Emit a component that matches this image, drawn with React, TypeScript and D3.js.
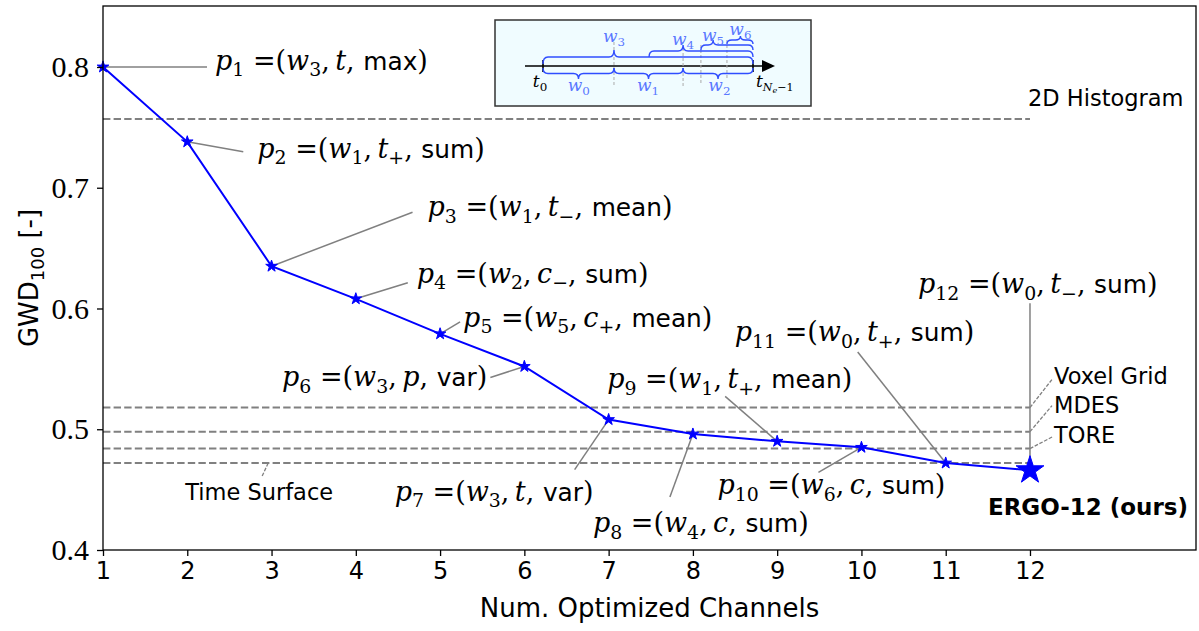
import { useEffect, useRef } from 'react'
import * as d3 from 'd3'

// GWD_100 after each greedily added channel
const channels = [1, 2, 3, 4, 5, 6, 7, 8, 9, 10, 11, 12]
const gwd = [0.8, 0.738, 0.635, 0.608, 0.579, 0.552, 0.508, 0.496, 0.49, 0.485, 0.472, 0.466]
const windows = ['3', '1', '1', '2', '5', '3', '3', '4', '1', '6', '0', '0']
const features = ['t', 't+', 't-', 'c-', 'c+', 'p', 't', 'c', 't+', 'c', 't+', 't-']
const aggs = ['max', 'sum', 'mean', 'sum', 'mean', 'var', 'var', 'sum', 'mean', 'sum', 'sum', 'sum']

const baselineNames = ['2D Histogram', 'Voxel Grid', 'MDES', 'TORE', 'Time Surface']
const baselineValues = [0.757, 0.518, 0.498, 0.484, 0.472]

const yTicks = [0.4, 0.5, 0.6, 0.7, 0.8]

// inset: window boundaries as fractions of [t0, t_{Ne-1}]
const insetCuts = [0.338, 0.667, 0.752, 0.876]

const W = 1199
const H = 631
const SERIF = '"DejaVu Serif", "Liberation Serif", serif'
const TICKSERIF = '"Liberation Serif", "DejaVu Serif", serif'
const SANS = '"DejaVu Sans", "Liberation Sans", sans-serif'

// label placement, offsets (px) from the point
const annoLayout = [
  { cx: 104, cy: 0, tx: 112, ty: -5, end: false },
  { cx: 56, cy: 10, tx: 70, ty: 8, end: false },
  { cx: 141, cy: -54, tx: 156, ty: -58, end: false },
  { cx: 52, cy: -16, tx: 61, ty: -24, end: false },
  { cx: 20, cy: -12, tx: 23, ty: -15, end: false },
  { cx: -34, cy: 11, tx: -37, ty: 12, end: true },
  { cx: -34, cy: 50, tx: -214, ty: 73, end: false },
  { cx: -23, cy: 63, tx: -100, ty: 90, end: false },
  { cx: -52, cy: -45, tx: -170, ty: -61, end: false },
  { cx: -43, cy: 25, tx: -144, ty: 39, end: false },
  { cx: -88, cy: -111, tx: -211, ty: -130, end: false },
  { cx: 0, cy: -167, tx: -112, ty: -185, end: false }
]

const baseLayout = [
  { ax: 12, cx: 0, cy: 0, tx: -2, ty: -21 },
  { ax: 12, cx: 22, cy: -28, tx: 24, ty: -32 },
  { ax: 12, cx: 22, cy: -26, tx: 24, ty: -27 },
  { ax: 12, cx: 23, cy: -12, tx: 24, ty: -14 },
  { ax: 2.96, cx: -6, cy: 13, tx: -83, ty: 29 }
]

type Seg = { s: string; k: 'i' | 'r' | 'sub' | 'sf' }

function labelSegs(i: number): Seg[] {
  const f = features[i]
  const segs: Seg[] = [
    { s: 'p', k: 'i' },
    { s: String(channels[i]), k: 'sub' },
    { s: ' =(', k: 'r' },
    { s: 'w', k: 'i' },
    { s: windows[i], k: 'sub' },
    { s: ',\u2009', k: 'r' },
    { s: f[0], k: 'i' }
  ]
  if (f.length > 1) segs.push({ s: f[1] === '+' ? '+' : '\u2212', k: 'sub' })
  segs.push({ s: ', ', k: 'r' }, { s: aggs[i], k: 'sf' }, { s: ')', k: 'r' })
  return segs
}

function drawMath(text: any, segs: Seg[], fs: number) {
  let shift = 0
  segs.forEach(sg => {
    const target = sg.k === 'sub' ? fs * 0.24 : 0
    const ts = text.append('tspan').attr('dy', target - shift).text(sg.s)
    shift = target
    if (sg.k === 'i') ts.attr('font-style', 'italic').attr('font-family', SERIF)
    if (sg.k === 'r') ts.attr('font-family', SERIF)
    if (sg.k === 'sub') ts.attr('font-family', SERIF).attr('font-size', fs * 0.7)
    if (sg.k === 'sf') ts.attr('font-family', SANS).attr('font-size', fs * 0.92)
  })
}

function brace(x0: number, x1: number, tip: number, y: number, dir: number, h: number) {
  const r = 5
  const mid = y + (dir * h) / 2
  const ty = y + dir * h
  const p = d3.path()
  p.moveTo(x0, y)
  p.quadraticCurveTo(x0, mid, x0 + r, mid)
  p.lineTo(tip - r, mid)
  p.quadraticCurveTo(tip, mid, tip, ty)
  p.quadraticCurveTo(tip, mid, tip + r, mid)
  p.lineTo(x1 - r, mid)
  p.quadraticCurveTo(x1, mid, x1, y)
  return p.toString()
}

export default function App() {
  const ref = useRef<SVGSVGElement>(null)

  useEffect(() => {
    if (!ref.current) return
    const svg = d3.select(ref.current)
    svg.selectAll('*').remove()

    const x = d3.scaleLinear().domain([1, 13.97]).range([103, 1196])
    const y = d3.scaleLinear().domain([0.4, 0.8505]).range([550, 6])

    // baselines
    baselineValues.forEach((v, i) => {
      svg.append('line')
        .attr('x1', x(1)).attr('x2', x(12))
        .attr('y1', y(v)).attr('y2', y(v))
        .attr('stroke', '#808080').attr('stroke-width', 2)
        .attr('stroke-dasharray', '7.4,3.2')
      const L = baseLayout[i]
      const ax = x(L.ax)
      const ay = y(v)
      if (L.cx !== 0 || L.cy !== 0) {
        svg.append('line')
          .attr('x1', ax).attr('y1', ay)
          .attr('x2', ax + L.cx).attr('y2', ay + L.cy)
          .attr('stroke', '#808080').attr('stroke-width', 1.3)
          .attr('stroke-dasharray', '3.7,1.6')
      }
      svg.append('text')
        .attr('x', ax + L.tx).attr('y', ay + L.ty)
        .attr('dy', '0.36em')
        .attr('font-family', SANS).attr('font-size', 22.5)
        .attr('fill', '#000')
        .text(baselineNames[i])
    })

    // annotation connectors
    channels.forEach((c, i) => {
      const px = x(c)
      const py = y(gwd[i])
      const L = annoLayout[i]
      svg.append('line')
        .attr('x1', px).attr('y1', py)
        .attr('x2', px + L.cx).attr('y2', py + L.cy)
        .attr('stroke', '#808080').attr('stroke-width', 1.5)
    })

    // main curve
    const line = d3.line<number>()
      .x((_, i) => x(channels[i]))
      .y(d => y(d))
    svg.append('path')
      .datum(gwd)
      .attr('d', line)
      .attr('fill', 'none')
      .attr('stroke', '#0000ff')
      .attr('stroke-width', 2)

    const small = d3.symbol(d3.symbolStar, 42)
    const big = d3.symbol(d3.symbolStar, 240)
    channels.forEach((c, i) => {
      svg.append('path')
        .attr('d', i === channels.length - 1 ? big() : small())
        .attr('transform', `translate(${x(c)},${y(gwd[i])})`)
        .attr('fill', '#0000ff')
        .attr('stroke', '#0000ff')
        .attr('stroke-width', 1)
    })

    // annotation labels
    const FS = 27
    channels.forEach((c, i) => {
      const L = annoLayout[i]
      const t = svg.append('text')
        .attr('x', x(c) + L.tx)
        .attr('y', y(gwd[i]) + L.ty + 8)
        .attr('font-size', FS)
        .attr('fill', '#000')
        .attr('text-anchor', L.end ? 'end' : 'start')
      drawMath(t, labelSegs(i), FS)
    })

    svg.append('text')
      .attr('x', x(12) + 58).attr('y', y(gwd[11]) + 45)
      .attr('text-anchor', 'middle')
      .attr('font-family', SANS).attr('font-size', 23)
      .attr('font-weight', 'bold')
      .text('ERGO-12 (ours)')

    // frame
    svg.append('rect')
      .attr('x', x(1)).attr('y', y(0.8505))
      .attr('width', x(13.97) - x(1)).attr('height', y(0.4) - y(0.8505))
      .attr('fill', 'none').attr('stroke', '#000').attr('stroke-width', 1.3)

    // y axis
    const ya = svg.append('g').attr('transform', `translate(${x(1)},0)`)
      .call(d3.axisLeft(y).tickValues(yTicks).tickSize(6).tickPadding(8).tickFormat(d3.format('.1f')))
    ya.select('.domain').remove()
    ya.selectAll('line').attr('stroke', '#000').attr('stroke-width', 1.3)
    ya.selectAll('text').attr('font-family', TICKSERIF).attr('font-size', 30).attr('fill', '#000')

    // x axis
    const xa = svg.append('g').attr('transform', `translate(0,${y(0.4)})`)
      .call(d3.axisBottom(x).tickValues(channels).tickSize(6).tickPadding(6).tickFormat(d3.format('d')))
    xa.select('.domain').remove()
    xa.selectAll('line').attr('stroke', '#000').attr('stroke-width', 1.3)
    xa.selectAll('text').attr('font-family', SANS).attr('font-size', 24).attr('fill', '#000')

    svg.append('text')
      .attr('x', (x(1) + x(13.97)) / 2).attr('y', 617)
      .attr('text-anchor', 'middle')
      .attr('font-family', SANS).attr('font-size', 26)
      .text('Num. Optimized Channels')

    const yl = svg.append('text')
      .attr('transform', `translate(38,${(y(0.4) + y(0.8505)) / 2}) rotate(-90)`)
      .attr('text-anchor', 'middle')
      .attr('font-family', SANS).attr('font-size', 26)
    yl.append('tspan').text('GWD')
    yl.append('tspan').attr('font-size', 18).attr('dy', 6).text('100')
    yl.append('tspan').attr('dy', -6).text(' [-]')

    // inset diagram
    const g = svg.append('g')
    g.append('rect')
      .attr('x', 495).attr('y', 20).attr('width', 316).attr('height', 86)
      .attr('fill', '#f0fcff').attr('stroke', '#333').attr('stroke-width', 1.5)
    const tx = d3.scaleLinear().domain([0, 1]).range([543, 753])
    const ay = 66
    g.append('line').attr('x1', 525).attr('x2', 763).attr('y1', ay).attr('y2', ay)
      .attr('stroke', '#000').attr('stroke-width', 1.6)
    g.append('path').attr('d', `M762,${ay - 6}L775,${ay}L762,${ay + 6}Z`).attr('fill', '#000')
    ;[0, 1].forEach(v => {
      g.append('line').attr('x1', tx(v)).attr('x2', tx(v)).attr('y1', ay - 6).attr('y2', ay + 6)
        .attr('stroke', '#000').attr('stroke-width', 1.6)
    })
    const dashTops = [42, 48, 45, 40]
    const dashBots = [87, 86, 85, 80]
    insetCuts.forEach((v, i) => {
      g.append('line').attr('x1', tx(v)).attr('x2', tx(v))
        .attr('y1', dashTops[i]).attr('y2', dashBots[i])
        .attr('stroke', '#aaa').attr('stroke-width', 1).attr('stroke-dasharray', '3,2')
    })
    const BL = '#2f4dff'
    const braces = [
      { a: 0, b: insetCuts[0], tip: insetCuts[0] / 2, y: 68, dir: 1, h: 11 },
      { a: insetCuts[0], b: insetCuts[1], tip: (insetCuts[0] + insetCuts[1]) / 2, y: 68, dir: 1, h: 11 },
      { a: insetCuts[1], b: 1, tip: (insetCuts[1] + 1) / 2, y: 68, dir: 1, h: 11 },
      { a: 0, b: 1, tip: insetCuts[0], y: 64, dir: -1, h: 14 },
      { a: 0.505, b: 1, tip: insetCuts[1], y: 57, dir: -1, h: 12 },
      { a: insetCuts[2], b: 1, tip: 0.81, y: 50, dir: -1, h: 10 },
      { a: insetCuts[3], b: 1, tip: 0.94, y: 44, dir: -1, h: 8 }
    ]
    braces.forEach(b => {
      g.append('path').attr('d', brace(tx(b.a), tx(b.b), tx(b.tip), b.y, b.dir, b.h))
        .attr('fill', 'none').attr('stroke', BL).attr('stroke-width', 1.4)
    })
    const wLabels = [
      { n: '0', at: 0.17, yy: 91 },
      { n: '1', at: 0.5, yy: 91 },
      { n: '2', at: 0.84, yy: 91 },
      { n: '3', at: insetCuts[0], yy: 42 },
      { n: '4', at: insetCuts[1], yy: 45 },
      { n: '5', at: 0.81, yy: 41 },
      { n: '6', at: 0.94, yy: 35 }
    ]
    wLabels.forEach(w => {
      const t = g.append('text').attr('x', tx(w.at)).attr('y', w.yy)
        .attr('text-anchor', 'middle').attr('fill', '#5a78ff').attr('font-size', 17)
      drawMath(t, [{ s: 'w', k: 'i' }, { s: w.n, k: 'sub' }], 17)
    })
    const t0 = g.append('text').attr('x', 540).attr('y', 87).attr('text-anchor', 'middle').attr('font-size', 17).attr('fill', '#000')
    drawMath(t0, [{ s: 't', k: 'i' }, { s: '0', k: 'sub' }], 17)
    const tn = g.append('text').attr('x', 756).attr('y', 87).attr('font-size', 17).attr('fill', '#000')
    tn.append('tspan').attr('font-family', SERIF).attr('font-style', 'italic').text('t')
    tn.append('tspan').attr('font-family', SERIF).attr('font-style', 'italic').attr('font-size', 11).attr('dy', 4).text('N')
    tn.append('tspan').attr('font-family', SERIF).attr('font-style', 'italic').attr('font-size', 8).attr('dy', 2).text('e')
    tn.append('tspan').attr('font-family', SERIF).attr('font-size', 11).attr('dy', -2).text('\u22121')
  }, [])

  return (
    <svg
      ref={ref}
      width={W}
      height={H}
      style={{ position: 'absolute', left: 0, top: 0, background: '#fff' }}
    />
  )
}
